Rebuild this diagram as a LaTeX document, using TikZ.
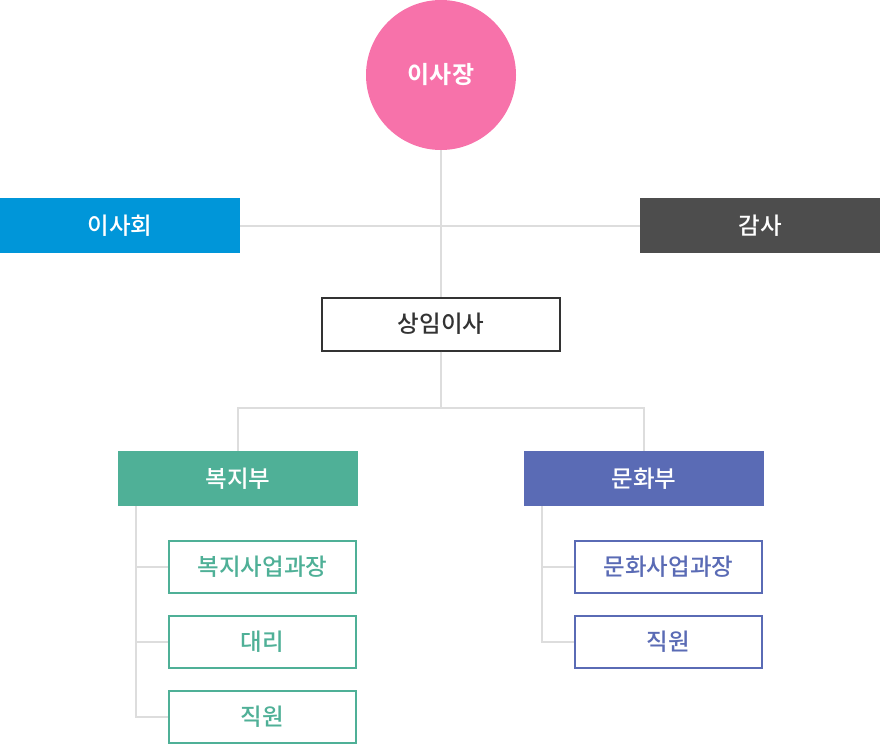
\documentclass[tikz,border=0pt]{standalone}
\usepackage{fontspec}
\setmainfont{Noto Sans CJK KR}[BoldFont={* Medium}]
\newfontfamily\krbold{Noto Sans CJK KR}[BoldFont={* Bold}]
\definecolor{cpink}{HTML}{F772AA}
\definecolor{cblue}{HTML}{0096D9}
\definecolor{cgray}{HTML}{4D4D4D}
\definecolor{cdark}{HTML}{333333}
\definecolor{cgreen}{HTML}{4FB097}
\definecolor{cindigo}{HTML}{5A6BB5}
\definecolor{cline}{HTML}{DDDDDD}
\begin{document}
\begin{tikzpicture}[x=1pt,y=-1pt,
  conn/.style={draw=cline,line width=1.5pt},
  solidbox/.style={minimum width=240pt,minimum height=55pt,inner sep=0pt,text=white,font=\bfseries\fontsize{23.5}{26}\selectfont},
  topbox/.style={draw=cdark,line width=2pt,fill=white,minimum width=238pt,minimum height=53pt,inner sep=0pt,text=cdark,font=\bfseries\fontsize{23.5}{26}\selectfont},
  gsub/.style={draw=cgreen,line width=2pt,fill=white,minimum width=187pt,minimum height=52pt,inner sep=0pt,text=cgreen,font=\bfseries\fontsize{23.5}{26}\selectfont},
  isub/.style={draw=cindigo,line width=2pt,fill=white,minimum width=187pt,minimum height=52pt,inner sep=0pt,text=cindigo,font=\bfseries\fontsize{23.5}{26}\selectfont}]
\useasboundingbox (0,0) rectangle (880,745);
\coordinate (hl) at (240,226);
\coordinate (hr) at (640,226);
\coordinate (bm) at (441,408);
\node[circle,fill=cpink,minimum size=150pt,inner sep=0pt,text=white,font=\krbold\bfseries\fontsize{24}{26}\selectfont] (ceo) at (441,75) {이사장};
\node[solidbox,fill=cblue] (board) at (120,225.5) {이사회};
\node[solidbox,fill=cgray] (audit) at (760,225.5) {감사};
\node[topbox] (exec) at (441,324) {상임이사};
\node[solidbox,fill=cgreen] (welf) at (238,478.5) {복지부};
\node[solidbox,fill=cindigo] (cult) at (644,478.5) {문화부};
\node[gsub] (w1) at (262.5,567) {복지사업과장};
\node[gsub] (w2) at (262.5,642) {대리};
\node[gsub] (w3) at (262.5,717) {직원};
\node[isub] (c1) at (668.5,567) {문화사업과장};
\node[isub] (c2) at (668.5,642) {직원};
\coordinate (wx) at (136,506);
\coordinate (cx) at (542,506);
\draw[conn] (ceo.south) -- (exec.north);
\draw[conn] (board.east |- hl) -- (audit.west |- hr);
\draw[conn] (exec.south) -- (bm);
\draw[conn] (welf.north) |- (bm) -| (cult.north);
\draw[conn] (wx) |- (w3.west);
\draw[conn] (wx |- w1.west) -- (w1.west);
\draw[conn] (wx |- w2.west) -- (w2.west);
\draw[conn] (cx) |- (c2.west);
\draw[conn] (cx |- c1.west) -- (c1.west);
\end{tikzpicture}
\end{document}
